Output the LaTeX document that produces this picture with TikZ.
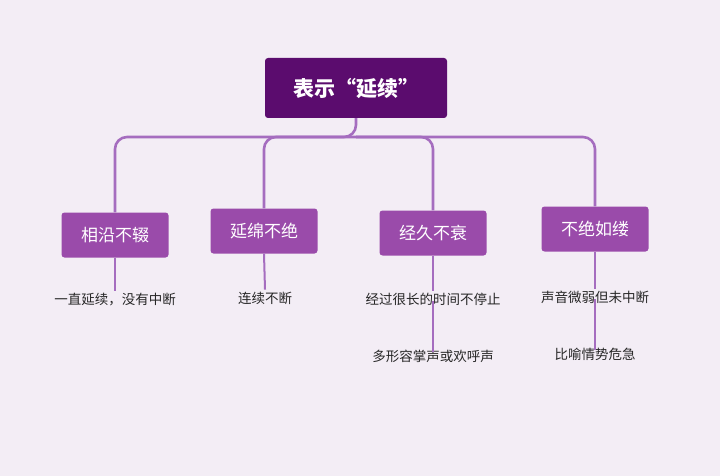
\documentclass[tikz,border=0pt]{standalone}
\usepackage{fontspec}
\setmainfont{Noto Sans CJK SC}
\begin{document}
\begin{tikzpicture}[x=1pt,y=-1pt,
  rootbox/.style={fill=root,text=white,rounded corners=3pt,minimum width=182pt,minimum height=60pt,font=\fontsize{21}{24}\selectfont\bfseries},
  childbox/.style={fill=child,text=white,rounded corners=3pt,minimum width=107pt,minimum height=45pt,font=\fontsize{17}{20}\selectfont},
  leaf/.style={text=black!85,font=\fontsize{13.5}{16}\selectfont,inner sep=2pt},
  conn/.style={draw=line,line width=2.6pt,rounded corners=12pt},
  thin/.style={draw=line,line width=2pt}]
\definecolor{bg}{HTML}{F3EDF5}
\definecolor{root}{HTML}{5B0C6E}
\definecolor{child}{HTML}{9A4BAA}
\definecolor{line}{HTML}{A56DBF}
\fill[bg] (0,0) rectangle (720,476);
\useasboundingbox (0,0) rectangle (720,476);
\node[rootbox] (r) at (356,88) {表示“延续”};
\node[childbox] (c1) at (115,235) {相沿不辍};
\node[childbox] (c2) at (264,231) {延绵不绝};
\node[childbox] (c3) at (433,233) {经久不衰};
\node[childbox] (c4) at (595,229) {不绝如缕};
\coordinate (j) at (356,137);
\draw[conn] (r.south) -- (j) -| (c1.north);
\draw[conn] (j) -| (c4.north);
\draw[conn] (j) -| (c2.north);
\draw[conn] (j) -| (c3.north);
\node[leaf] (l1) at (115,300) {一直延续，没有中断};
\node[leaf] (l2) at (265,298) {连续不断};
\node[leaf] (l3) at (433,299) {经过很长的时间不停止};
\node[leaf] (l3b) at (433,356) {多形容掌声或欢呼声};
\node[leaf] (l4) at (595,297) {声音微弱但未中断};
\node[leaf] (l4b) at (595,354) {比喻情势危急};
\draw[thin] (c1.south) -- (l1.north);
\draw[thin] (c2.south) -- (l2.north);
\draw[thin] (c3.south) -- (l3.north);
\draw[thin] ([yshift=6pt]l3.south) -- ([yshift=-4pt]l3b.north);
\draw[thin] (c4.south) -- (l4.north);
\draw[thin] ([yshift=6pt]l4.south) -- ([yshift=-4pt]l4b.north);
\end{tikzpicture}
\end{document}
